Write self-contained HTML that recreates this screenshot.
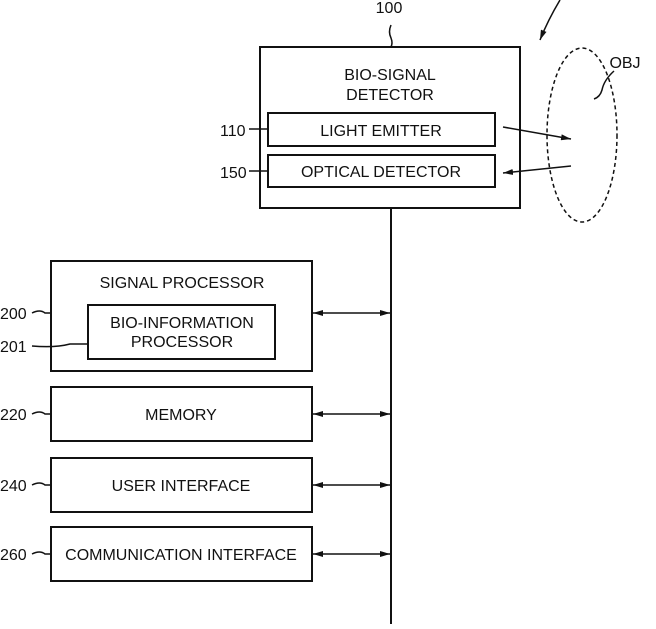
<!DOCTYPE html>
<html><head><style>
body{margin:0;background:#fff;}
svg text{font-family:"Liberation Sans",sans-serif;font-size:16px;fill:#111;}
</style></head><body>
<svg width="656" height="624" viewBox="0 0 656 624" xmlns="http://www.w3.org/2000/svg">
<defs>
<marker id="a" viewBox="0 0 10 6" refX="10" refY="3" markerWidth="10" markerHeight="6" orient="auto-start-reverse" markerUnits="userSpaceOnUse"><path d="M0,0 L10,3 L0,6 Z" fill="#111"/></marker>
</defs>
<g fill="none" stroke="#111" stroke-width="2">
<rect x="260" y="47" width="260" height="161"/>
<rect x="268" y="113" width="227" height="33"/>
<rect x="268" y="155" width="227" height="32"/>
<path d="M391 208 V624"/>
<path d="M391 25 Q388 32 391 38 Q393 43 391 47" stroke-width="1.5"/>
<rect x="51" y="261" width="261" height="110"/>
<rect x="88" y="305" width="187" height="54"/>
<rect x="51" y="387" width="261" height="54"/>
<rect x="51" y="458" width="261" height="54"/>
<rect x="51" y="527" width="261" height="54"/>
</g>
<g stroke="#111" stroke-width="1.5" fill="none">
<line x1="313" y1="313" x2="390" y2="313" marker-start="url(#a)" marker-end="url(#a)"/>
<line x1="313" y1="414" x2="390" y2="414" marker-start="url(#a)" marker-end="url(#a)"/>
<line x1="313" y1="485" x2="390" y2="485" marker-start="url(#a)" marker-end="url(#a)"/>
<line x1="313" y1="554" x2="390" y2="554" marker-start="url(#a)" marker-end="url(#a)"/>
<line x1="503" y1="127" x2="571" y2="139" marker-end="url(#a)"/>
<line x1="571" y1="166" x2="503" y2="173" marker-end="url(#a)"/>
<ellipse cx="582" cy="135" rx="35" ry="87" stroke-dasharray="4,3"/>
<path d="M560 0 Q548 20 540 40" marker-end="url(#a)"/>
<path d="M614 71 Q604 80 602 90 Q600 97 594 99"/>
<path d="M249 129 H268"/><path d="M249 171 H268"/>
<path d="M32 313 Q40 309 45 313 H51"/>
<path d="M32 346 Q55 348 70 344 H88"/>
<path d="M32 414 Q40 410 45 414 H51"/>
<path d="M32 485 Q40 481 45 485 H51"/>
<path d="M32 554 Q40 550 45 554 H51"/>
</g>
<text x="389" y="13" text-anchor="middle">100</text>
<text x="390" y="80" text-anchor="middle">BIO-SIGNAL</text>
<text x="390" y="100" text-anchor="middle">DETECTOR</text>
<text x="381" y="136" text-anchor="middle">LIGHT EMITTER</text>
<text x="381" y="177" text-anchor="middle">OPTICAL DETECTOR</text>
<text x="625" y="68" text-anchor="middle">OBJ</text>
<text x="220" y="136">110</text>
<text x="220" y="178">150</text>
<text x="182" y="288" text-anchor="middle">SIGNAL PROCESSOR</text>
<text x="182" y="328" text-anchor="middle">BIO-INFORMATION</text>
<text x="182" y="347" text-anchor="middle">PROCESSOR</text>
<text x="181" y="420" text-anchor="middle">MEMORY</text>
<text x="181" y="491" text-anchor="middle">USER INTERFACE</text>
<text x="181" y="560" text-anchor="middle">COMMUNICATION INTERFACE</text>
<text x="0" y="319">200</text>
<text x="0" y="352">201</text>
<text x="0" y="420">220</text>
<text x="0" y="491">240</text>
<text x="0" y="560">260</text>
</svg>
</body></html>
